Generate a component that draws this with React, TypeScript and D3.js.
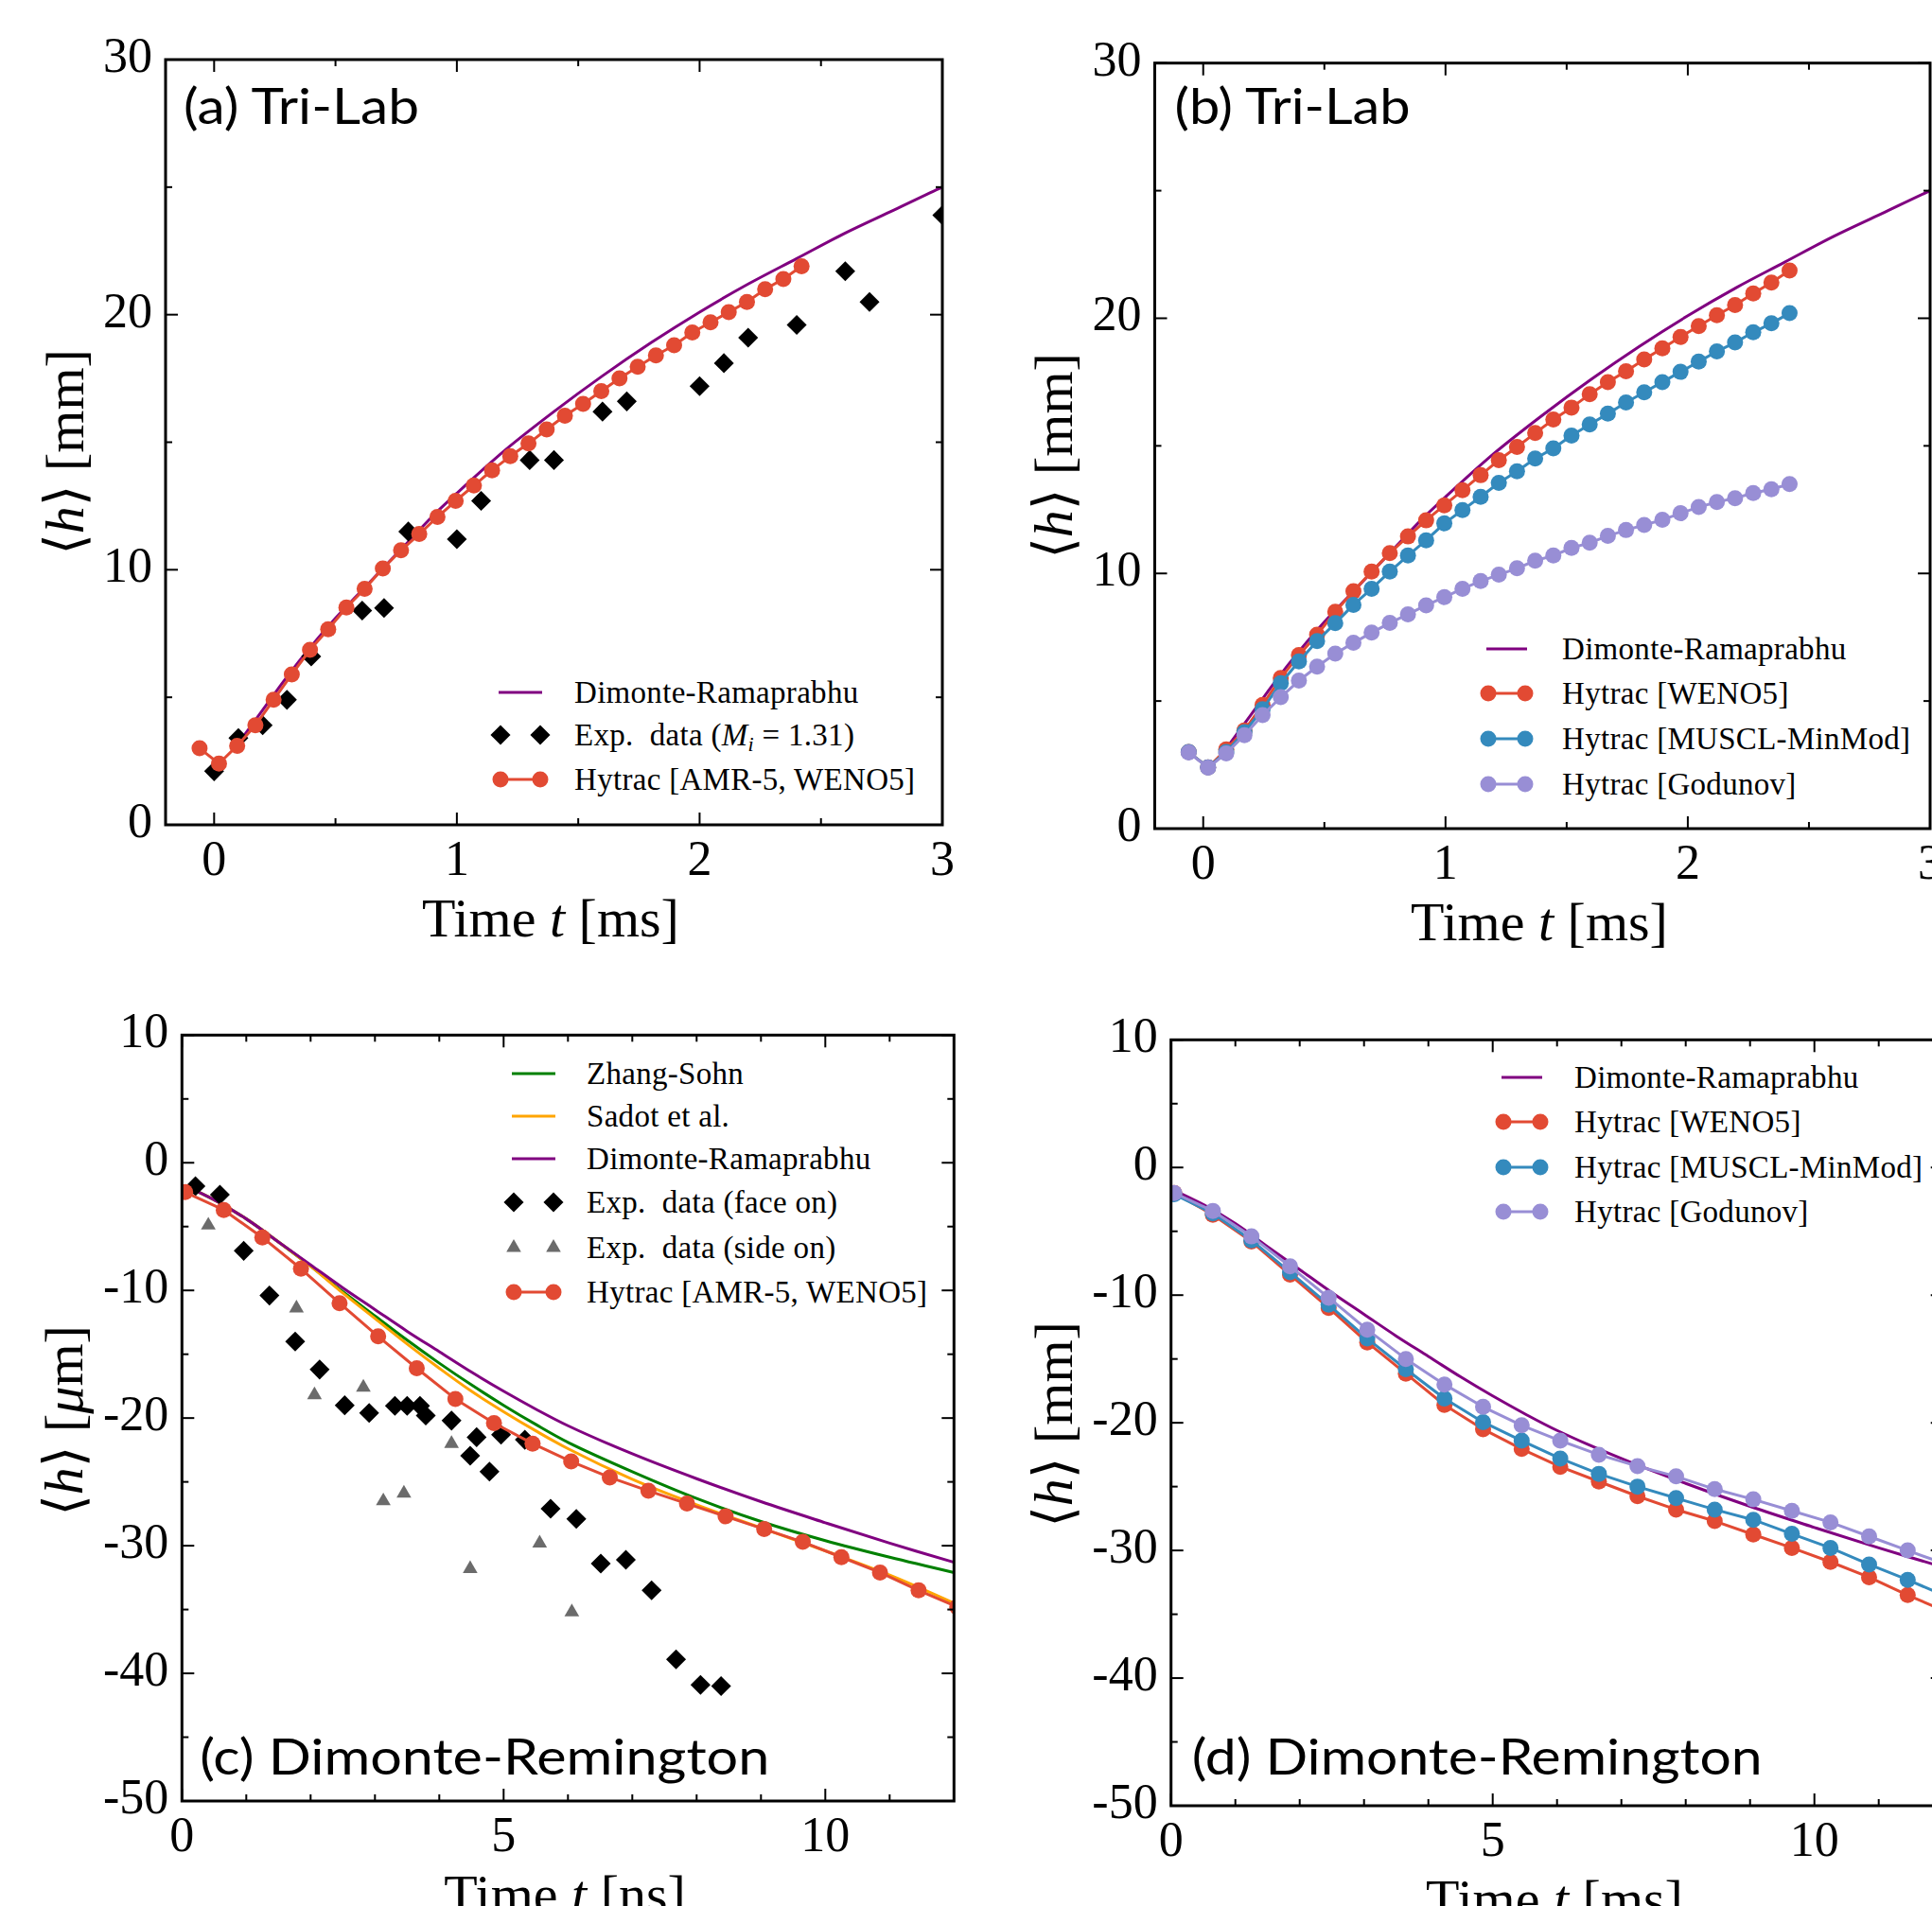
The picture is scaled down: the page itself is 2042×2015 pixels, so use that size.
import React from "react";
import * as d3 from "d3";

// ---------------- Data ----------------
// Panels (a) and (b): Tri-Lab, t in ms, <h> in mm
const triLabModelTime = [0.1, 0.2, 0.3, 0.4, 0.5, 0.6, 0.7, 0.8, 0.9, 1.0, 1.2, 1.4, 1.6, 1.8, 2.0, 2.2, 2.4, 2.6, 2.8, 3.0, 3.1];
const triLabDimonteRamaprabhu = [3.2, 4.5, 5.8, 7.0, 8.1, 9.1, 10.1, 11.1, 12.1, 13.0, 14.7, 16.2, 17.6, 18.9, 20.1, 21.2, 22.2, 23.2, 24.1, 25.0, 25.4];

const triLabExpTime = [0, 0.1, 0.2, 0.3, 0.4, 0.61, 0.7, 0.8, 1.0, 1.1, 1.3, 1.4, 1.6, 1.7, 2.0, 2.1, 2.2, 2.4, 2.6, 2.7, 3.0];
const triLabExpH = [2.1, 3.4, 3.9, 4.9, 6.6, 8.4, 8.5, 11.5, 11.2, 12.7, 14.3, 14.3, 16.2, 16.6, 17.2, 18.1, 19.1, 19.6, 21.7, 20.5, 23.9];

const triLabHytracTime = [-0.06, 0.02, 0.095, 0.17, 0.245, 0.32, 0.395, 0.47, 0.545, 0.62, 0.695, 0.77, 0.845, 0.92, 0.995, 1.07, 1.145, 1.22, 1.295, 1.37, 1.445, 1.52, 1.595, 1.67, 1.745, 1.82, 1.895, 1.97, 2.045, 2.12, 2.195, 2.27, 2.345, 2.42];
const triLabAmrWeno5 = [3.0, 2.4, 3.1, 3.9, 4.9, 5.9, 6.86, 7.67, 8.52, 9.25, 10.05, 10.76, 11.4, 12.07, 12.7, 13.3, 13.9, 14.45, 14.95, 15.5, 16.04, 16.5, 17.0, 17.5, 17.96, 18.4, 18.8, 19.3, 19.7, 20.1, 20.5, 21.0, 21.4, 21.9];
const triLabWeno5 = [3.0, 2.4, 3.1, 3.85, 4.85, 5.9, 6.8, 7.6, 8.5, 9.3, 10.07, 10.8, 11.45, 12.08, 12.67, 13.26, 13.85, 14.44, 14.96, 15.5, 16.03, 16.5, 17.02, 17.5, 17.92, 18.39, 18.82, 19.27, 19.69, 20.12, 20.52, 20.97, 21.4, 21.87];
const triLabMuscl = [3.0, 2.4, 3.0, 3.78, 4.68, 5.7, 6.55, 7.35, 8.05, 8.77, 9.4, 10.07, 10.7, 11.3, 11.96, 12.48, 13.0, 13.55, 14.0, 14.5, 14.9, 15.4, 15.84, 16.26, 16.7, 17.1, 17.5, 17.9, 18.3, 18.7, 19.05, 19.45, 19.8, 20.2];
const triLabGodunov = [2.98, 2.39, 2.95, 3.66, 4.45, 5.15, 5.8, 6.35, 6.86, 7.28, 7.68, 8.06, 8.4, 8.75, 9.07, 9.4, 9.7, 9.95, 10.2, 10.5, 10.7, 11.0, 11.2, 11.47, 11.7, 11.9, 12.1, 12.36, 12.6, 12.8, 12.95, 13.15, 13.3, 13.5];

// Panels (c) and (d): Dimonte-Remington
const drModelTime = [0.05, 0.5, 1, 1.5, 2, 2.5, 3, 3.5, 4, 4.5, 5, 5.5, 6, 7, 8, 9, 10, 11, 12];
const drDimonteRamaprabhu = [-1.8, -2.9, -4.4, -6.2, -8.0, -9.8, -11.5, -13.2, -14.8, -16.4, -17.9, -19.3, -20.6, -22.8, -24.75, -26.55, -28.2, -29.8, -31.3];
const drZhangSohn = [-1.8, -2.9, -4.4, -6.2, -8.1, -10.1, -12.0, -13.9, -15.7, -17.4, -19.0, -20.5, -21.9, -24.2, -26.3, -28.1, -29.6, -30.9, -32.1];
const drSadot = [-1.8, -2.9, -4.4, -6.2, -8.1, -10.2, -12.2, -14.2, -16.1, -17.9, -19.5, -21.0, -22.4, -24.8, -26.8, -28.6, -30.4, -32.3, -34.5];

const drExpFaceTime = [0.21, 0.59, 0.96, 1.36, 1.76, 2.14, 2.53, 2.91, 3.31, 3.5, 3.7, 3.79, 4.19, 4.48, 4.58, 4.78, 4.96, 5.33, 5.73, 6.13, 6.51, 6.9, 7.3, 7.68, 8.06, 8.38];
const drExpFaceH = [-1.84, -2.5, -6.9, -10.4, -14.0, -16.2, -19.0, -19.6, -19.05, -19.05, -19.05, -19.8, -20.2, -22.95, -21.5, -24.2, -21.3, -21.7, -27.1, -27.9, -31.4, -31.1, -33.5, -38.9, -40.9, -41.0];
const drExpSideTime = [0.41, 1.78, 2.06, 2.82, 3.13, 3.45, 4.19, 4.48, 5.56, 6.06];
const drExpSideH = [-4.9, -11.4, -18.2, -17.6, -26.5, -25.9, -22.0, -31.8, -29.8, -35.2];

const drHytracTime = [0.05, 0.65, 1.25, 1.85, 2.45, 3.05, 3.65, 4.25, 4.85, 5.45, 6.05, 6.65, 7.25, 7.85, 8.45, 9.05, 9.65, 10.25, 10.85, 11.45, 12.05];
const drAmrWeno5 = [-2.3, -3.7, -5.85, -8.3, -11.0, -13.6, -16.1, -18.5, -20.4, -22.0, -23.4, -24.65, -25.7, -26.7, -27.7, -28.7, -29.7, -30.9, -32.1, -33.5, -34.8];
const drWeno5 = [-2.0, -3.7, -5.8, -8.4, -11.0, -13.7, -16.15, -18.6, -20.5, -22.05, -23.45, -24.6, -25.75, -26.8, -27.7, -28.75, -29.8, -30.9, -32.1, -33.5, -34.8];
const drMuscl = [-2.1, -3.6, -5.7, -8.2, -10.75, -13.4, -15.8, -18.1, -19.95, -21.4, -22.8, -24.0, -25.0, -25.9, -26.8, -27.6, -28.7, -29.8, -31.1, -32.3, -33.6];
const drGodunov = [-2.0, -3.4, -5.4, -7.75, -10.2, -12.7, -15.0, -17.0, -18.75, -20.2, -21.4, -22.5, -23.4, -24.2, -25.2, -26.0, -26.9, -27.8, -28.9, -30.0, -31.1];

// ticks
const triLabXMajor = [0, 1, 2, 3];
const triLabXMinor = [0.5, 1.5, 2.5];
const triLabYMajor = [0, 10, 20, 30];
const triLabYMinor = [5, 15, 25];
const drXMajor = [0, 5, 10];
const drXMinor = [1, 2, 3, 4, 6, 7, 8, 9, 11];
const drYMajor = [-50, -40, -30, -20, -10, 0, 10];
const drYMinor = [-45, -35, -25, -15, -5, 5];

// ---------------- Style ----------------
const SERIF = "'Liberation Serif', 'DejaVu Serif', serif";
const SANS = "Lato, 'Noto Sans', sans-serif";
const C_RED = "#E24A33";
const C_BLUE = "#348ABD";
const C_LAV = "#988ED5";
const C_PURPLE = "#800080";
const C_GREEN = "#008000";
const C_ORANGE = "#FFA500";
const C_GRAY = "#6b6b6b";
const MR = 8.5;
const TICK_FONT = 52;
const LABEL_FONT = 58;
const LEG_FONT = 33;

type Scales = { x: d3.ScaleLinear<number, number>; y: d3.ScaleLinear<number, number> };

function zip(t: number[], v: number[]): [number, number][] {
  return t.map((ti, i) => [ti, v[i]]);
}

function Curve({ s, t, v, color, width = 3, smooth = false }: { s: Scales; t: number[]; v: number[]; color: string; width?: number; smooth?: boolean }) {
  const gen = d3
    .line<[number, number]>()
    .x((d) => s.x(d[0]))
    .y((d) => s.y(d[1]))
    .curve(smooth ? d3.curveCatmullRom.alpha(0.5) : d3.curveLinear);
  return <path d={gen(zip(t, v)) || ""} fill="none" stroke={color} strokeWidth={width} strokeLinejoin="round" />;
}

function Dots({ s, t, v, color }: { s: Scales; t: number[]; v: number[]; color: string }) {
  return (
    <g fill={color}>
      {t.map((ti, i) => (
        <circle key={i} cx={s.x(ti)} cy={s.y(v[i])} r={MR} />
      ))}
    </g>
  );
}

const diamondPath = d3.symbol(d3.symbolSquare, 222)() || "";
const trianglePath = d3.symbol(d3.symbolTriangle, 105)() || "";

function Diamond({ cx, cy }: { cx: number; cy: number }) {
  return <path d={diamondPath} transform={`translate(${cx},${cy}) rotate(45)`} fill="#000" />;
}
function Triangle({ cx, cy }: { cx: number; cy: number }) {
  return <path d={trianglePath} transform={`translate(${cx},${cy})`} fill={C_GRAY} />;
}

function HytracSeries({ s, t, v, color }: { s: Scales; t: number[]; v: number[]; color: string }) {
  return (
    <g>
      <Curve s={s} t={t} v={v} color={color} width={3} />
      <Dots s={s} t={t} v={v} color={color} />
    </g>
  );
}

type PanelProps = {
  id: string;
  left: number;
  top: number;
  width: number;
  height: number;
  xDomain: [number, number];
  yDomain: [number, number];
  xMajor: number[];
  xMinor: number[];
  yMajor: number[];
  yMinor: number[];
  xUnit: string;
  yUnit: React.ReactNode;
  xLabelX: number;
  yLabelPos: [number, number];
  title: string;
  titleLen: number;
  titleDx: number;
  titleBaseline: number;
  render: (s: Scales) => React.ReactNode;
};

function Panel(p: PanelProps) {
  const x = d3.scaleLinear().domain(p.xDomain).range([p.left, p.left + p.width]);
  const y = d3.scaleLinear().domain(p.yDomain).range([p.top + p.height, p.top]);
  const s = { x, y };
  const right = p.left + p.width;
  const bottom = p.top + p.height;
  const MAJ = 13;
  const MIN = 7;
  return (
    <g>
      <defs>
        <clipPath id={p.id}>
          <rect x={p.left} y={p.top} width={p.width} height={p.height} />
        </clipPath>
      </defs>
      <g clipPath={`url(#${p.id})`}>{p.render(s)}</g>
      <text
        x={p.left + p.titleDx}
        y={p.titleBaseline}
        fontFamily={SANS}
        fontSize={52}
        textLength={p.titleLen}
        lengthAdjust="spacingAndGlyphs"
        fill="#000"
      >
        {p.title}
      </text>
      <g stroke="#000" strokeWidth={2}>
        {p.xMajor.map((v) => (
          <g key={"xM" + v}>
            <line x1={x(v)} x2={x(v)} y1={bottom} y2={bottom - MAJ} />
            <line x1={x(v)} x2={x(v)} y1={p.top} y2={p.top + MAJ} />
          </g>
        ))}
        {p.xMinor.map((v) => (
          <g key={"xm" + v}>
            <line x1={x(v)} x2={x(v)} y1={bottom} y2={bottom - MIN} />
            <line x1={x(v)} x2={x(v)} y1={p.top} y2={p.top + MIN} />
          </g>
        ))}
        {p.yMajor.map((v) => (
          <g key={"yM" + v}>
            <line x1={p.left} x2={p.left + MAJ} y1={y(v)} y2={y(v)} />
            <line x1={right} x2={right - MAJ} y1={y(v)} y2={y(v)} />
          </g>
        ))}
        {p.yMinor.map((v) => (
          <g key={"ym" + v}>
            <line x1={p.left} x2={p.left + MIN} y1={y(v)} y2={y(v)} />
            <line x1={right} x2={right - MIN} y1={y(v)} y2={y(v)} />
          </g>
        ))}
      </g>
      <rect x={p.left} y={p.top} width={p.width} height={p.height} fill="none" stroke="#000" strokeWidth={3} />
      <g fontFamily={SERIF} fontSize={TICK_FONT} fill="#000">
        {p.xMajor.map((v) => (
          <text key={"xl" + v} x={x(v)} y={bottom + 53} textAnchor="middle">
            {String(v)}
          </text>
        ))}
        {p.yMajor.map((v) => (
          <text key={"yl" + v} x={p.left - 14} y={y(v) + 13} textAnchor="end">
            {String(v)}
          </text>
        ))}
      </g>
      <text x={p.xLabelX} y={bottom + 118} textAnchor="middle" fontFamily={SERIF} fontSize={LABEL_FONT} fill="#000">
        Time <tspan fontStyle="italic">t</tspan> [{p.xUnit}]
      </text>
      <text
        transform={`translate(${p.yLabelPos[0]},${p.yLabelPos[1]}) rotate(-90)`}
        textAnchor="middle"
        dominantBaseline="central"
        fontFamily={SERIF}
        fontSize={LABEL_FONT}
        fill="#000"
      >
        {p.yUnit}
      </text>
    </g>
  );
}

type LegendItem = { kind: "line" | "dots" | "diamonds" | "triangles"; color: string; label: React.ReactNode };

function Legend({ x1, x2, textX, rows, items }: { x1: number; x2: number; textX: number; rows: number[]; items: LegendItem[] }) {
  return (
    <g>
      {items.map((it, i) => {
        const cy = rows[i];
        return (
          <g key={i}>
            {(it.kind === "line" || it.kind === "dots") && (
              <line x1={x1} x2={x2} y1={cy} y2={cy} stroke={it.color} strokeWidth={3} />
            )}
            {it.kind === "dots" && (
              <g fill={it.color}>
                <circle cx={x1 + 2} cy={cy} r={MR} />
                <circle cx={x2 - 2} cy={cy} r={MR} />
              </g>
            )}
            {it.kind === "diamonds" && (
              <g>
                <Diamond cx={x1 + 2} cy={cy} />
                <Diamond cx={x2 - 2} cy={cy} />
              </g>
            )}
            {it.kind === "triangles" && (
              <g>
                <Triangle cx={x1 + 2} cy={cy} />
                <Triangle cx={x2 - 2} cy={cy} />
              </g>
            )}
            <text x={textX} y={cy + 11} fontFamily={SERIF} fontSize={LEG_FONT} letterSpacing={0.3} fill="#000">
              {it.label}
            </text>
          </g>
        );
      })}
    </g>
  );
}

const hMM = (
  <>
    ⟨<tspan fontStyle="italic">h</tspan>⟩ [mm]
  </>
);
const hUM = (
  <>
    ⟨<tspan fontStyle="italic">h</tspan>⟩ [<tspan fontStyle="italic">μ</tspan>m]
  </>
);
const expMiLabel = (
  <>
    {"Exp.\u00A0 data ("}
    <tspan fontStyle="italic">M</tspan>
    <tspan fontStyle="italic" fontSize={22} dy={6}>i</tspan>
    <tspan dy={-6}>{"\u00A0=\u00A01.31)"}</tspan>
  </>
);

export default function App() {
  return (
    <svg width={2042} height={2015} style={{ position: "absolute", left: 0, top: 0, background: "#fff" }}>
      <rect x={0} y={0} width={2042} height={2015} fill="#fff" />

      {/* (a) */}
      <Panel
        id="clipA"
        left={175}
        top={63}
        width={821}
        height={809}
        xDomain={[-0.2, 3]}
        yDomain={[0, 30]}
        xMajor={triLabXMajor}
        xMinor={triLabXMinor}
        yMajor={triLabYMajor}
        yMinor={triLabYMinor}
        xUnit="ms"
        yUnit={hMM}
        xLabelX={582}
        yLabelPos={[68, 478]}
        title="(a) Tri-Lab"
        titleLen={249}
        titleDx={19}
        titleBaseline={131}
        render={(s) => (
          <g>
            <Curve s={s} t={triLabModelTime} v={triLabDimonteRamaprabhu} color={C_PURPLE} smooth />
            {triLabExpTime.map((t, i) => (
              <Diamond key={i} cx={s.x(t)} cy={s.y(triLabExpH[i])} />
            ))}
            <HytracSeries s={s} t={triLabHytracTime} v={triLabAmrWeno5} color={C_RED} />
          </g>
        )}
      />
      <Legend
        x1={527}
        x2={573}
        textX={607}
        rows={[732, 777, 824]}
        items={[
          { kind: "line", color: C_PURPLE, label: "Dimonte-Ramaprabhu" },
          { kind: "diamonds", color: "#000", label: expMiLabel },
          { kind: "dots", color: C_RED, label: "Hytrac [AMR-5, WENO5]" },
        ]}
      />

      {/* (b) */}
      <Panel
        id="clipB"
        left={1220.5}
        top={66.7}
        width={819.5}
        height={809.3}
        xDomain={[-0.2, 3]}
        yDomain={[0, 30]}
        xMajor={triLabXMajor}
        xMinor={triLabXMinor}
        yMajor={triLabYMajor}
        yMinor={triLabYMinor}
        xUnit="ms"
        yUnit={hMM}
        xLabelX={1627}
        yLabelPos={[1113, 482]}
        title="(b) Tri-Lab"
        titleLen={249}
        titleDx={21}
        titleBaseline={131}
        render={(s) => (
          <g>
            <Curve s={s} t={triLabModelTime} v={triLabDimonteRamaprabhu} color={C_PURPLE} smooth />
            <HytracSeries s={s} t={triLabHytracTime} v={triLabWeno5} color={C_RED} />
            <HytracSeries s={s} t={triLabHytracTime} v={triLabMuscl} color={C_BLUE} />
            <HytracSeries s={s} t={triLabHytracTime} v={triLabGodunov} color={C_LAV} />
          </g>
        )}
      />
      <Legend
        x1={1571}
        x2={1614}
        textX={1651}
        rows={[686, 733, 781, 829]}
        items={[
          { kind: "line", color: C_PURPLE, label: "Dimonte-Ramaprabhu" },
          { kind: "dots", color: C_RED, label: "Hytrac [WENO5]" },
          { kind: "dots", color: C_BLUE, label: "Hytrac [MUSCL-MinMod]" },
          { kind: "dots", color: C_LAV, label: "Hytrac [Godunov]" },
        ]}
      />

      {/* (c) */}
      <Panel
        id="clipC"
        left={192.3}
        top={1094.3}
        width={816}
        height={809.7}
        xDomain={[0, 12]}
        yDomain={[-50, 10]}
        xMajor={drXMajor}
        xMinor={drXMinor}
        yMajor={drYMajor}
        yMinor={drYMinor}
        xUnit="ns"
        yUnit={hUM}
        xLabelX={597}
        yLabelPos={[67, 1502]}
        title="(c) Dimonte-Remington"
        titleLen={602}
        titleDx={19}
        titleBaseline={1876}
        render={(s) => (
          <g>
            <Curve s={s} t={drModelTime} v={drZhangSohn} color={C_GREEN} smooth />
            <Curve s={s} t={drModelTime} v={drSadot} color={C_ORANGE} smooth />
            <Curve s={s} t={drModelTime} v={drDimonteRamaprabhu} color={C_PURPLE} smooth />
            {drExpFaceTime.map((t, i) => (
              <Diamond key={"f" + i} cx={s.x(t)} cy={s.y(drExpFaceH[i])} />
            ))}
            {drExpSideTime.map((t, i) => (
              <Triangle key={"s" + i} cx={s.x(t)} cy={s.y(drExpSideH[i])} />
            ))}
            <HytracSeries s={s} t={drHytracTime} v={drAmrWeno5} color={C_RED} />
          </g>
        )}
      />
      <Legend
        x1={541}
        x2={587}
        textX={620}
        rows={[1135, 1180, 1225, 1271, 1319, 1366]}
        items={[
          { kind: "line", color: C_GREEN, label: "Zhang-Sohn" },
          { kind: "line", color: C_ORANGE, label: "Sadot et al." },
          { kind: "line", color: C_PURPLE, label: "Dimonte-Ramaprabhu" },
          { kind: "diamonds", color: "#000", label: "Exp.\u00A0 data (face on)" },
          { kind: "triangles", color: C_GRAY, label: "Exp.\u00A0 data (side on)" },
          { kind: "dots", color: C_RED, label: "Hytrac [AMR-5, WENO5]" },
        ]}
      />

      {/* (d) */}
      <Panel
        id="clipD"
        left={1237.7}
        top={1099.3}
        width={816}
        height={809.7}
        xDomain={[0, 12]}
        yDomain={[-50, 10]}
        xMajor={drXMajor}
        xMinor={drXMinor}
        yMajor={drYMajor}
        yMinor={drYMinor}
        xUnit="ms"
        yUnit={hMM}
        xLabelX={1643}
        yLabelPos={[1113, 1506]}
        title="(d) Dimonte-Remington"
        titleLen={603}
        titleDx={22}
        titleBaseline={1876}
        render={(s) => (
          <g>
            <Curve s={s} t={drModelTime} v={drDimonteRamaprabhu} color={C_PURPLE} smooth />
            <HytracSeries s={s} t={drHytracTime} v={drWeno5} color={C_RED} />
            <HytracSeries s={s} t={drHytracTime} v={drMuscl} color={C_BLUE} />
            <HytracSeries s={s} t={drHytracTime} v={drGodunov} color={C_LAV} />
          </g>
        )}
      />
      <Legend
        x1={1587}
        x2={1630}
        textX={1664}
        rows={[1139, 1186, 1234, 1281]}
        items={[
          { kind: "line", color: C_PURPLE, label: "Dimonte-Ramaprabhu" },
          { kind: "dots", color: C_RED, label: "Hytrac [WENO5]" },
          { kind: "dots", color: C_BLUE, label: "Hytrac [MUSCL-MinMod]" },
          { kind: "dots", color: C_LAV, label: "Hytrac [Godunov]" },
        ]}
      />
    </svg>
  );
}
